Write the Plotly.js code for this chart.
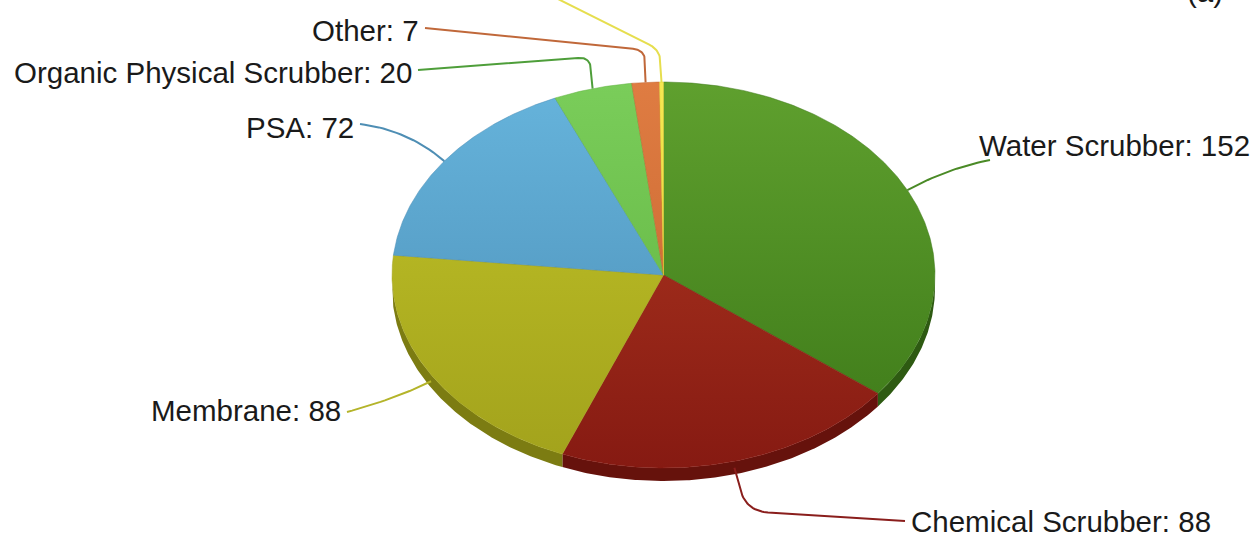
<!DOCTYPE html>
<html><head><meta charset="utf-8">
<script src="https://cdn.plot.ly/plotly-3.0.1.min.js"></script>
<style>html,body{margin:0;padding:0;background:#fff;overflow:hidden}</style>
</head><body><div id="chart" style="width:1260px;height:538px"></div>
<script>
// ---- data ----
const categories = ['Water Scrubber', 'Chemical Scrubber', 'Membrane', 'PSA', 'Organic Physical Scrubber', 'Other', 'Cryogenic'];
const values = [152, 88, 88, 72, 20, 7, 1];
const showLabel = [true, true, true, true, true, true, false];
const panelLabel = '(a)';

// ---- style ----
const topColors    = ['#5fa02e', '#b23a22', '#c2c428', '#66b4dc', '#7acd5a', '#df7c42', '#f6e852'];
const bottomColors = ['#3c7818', '#861a12', '#a2a21c', '#4a8cb4', '#5eb03e', '#c2622c', '#e2cc30'];
const rimColors    = ['#2e5a12', '#66120c', '#7c7c12', '#386c8c', '#488c2e', '#984a1e', '#b6a626'];
const lineColors   = ['#4a8a26', '#8a1e1c', '#b4b42a', '#4e8eb4', '#4e9e3a', '#c0683a', '#e6de4e'];
const geo = {cx: 663.5, cy: 275, rx: 271.5, ry: 193, depth: 13};
const fontSize = 29.5;
const labelStyle = [
  {tx: 977, ty: 145, xa: 'left',  corner: [948, 168], end: [990, 160], r: 1000},
  {tx: 909, ty: 521, xa: 'left',  corner: [746, 511], end: [905, 521], r: 22},
  {tx: 343, ty: 410, xa: 'right', corner: [398, 398], end: [347, 412], r: 1000},
  {tx: 356, ty: 127, xa: 'right', corner: [408, 130], end: [360, 124], r: 1000},
  {tx: 414, ty: 72,  xa: 'right', corner: [590, 57],  end: [418, 70],  r: 12},
  {tx: 421, ty: 30,  xa: 'right', corner: [645, 50],  end: [425, 28],  r: 12},
  {tx: 0,   ty: 0,   xa: 'right', corner: [660, 50],  end: [548, -6],  r: 12}
];

const total = values.reduce((a, b) => a + b, 0);
const rad = d => d * Math.PI / 180;
function pt(deg, dy) {
  return [geo.cx + geo.rx * Math.sin(rad(deg)), geo.cy - geo.ry * Math.cos(rad(deg)) + (dy || 0)];
}
function arc(a1, a2, dy) {
  const pts = [];
  const n = Math.max(2, Math.ceil((a2 - a1) / 0.5));
  for (let i = 0; i <= n; i++) pts.push(pt(a1 + (a2 - a1) * i / n, dy));
  return pts;
}

const rimTraces = [], faceTraces = [], lineTraces = [], annotations = [];
let acc = 0;
values.forEach((v, i) => {
  const a1 = acc / total * 360, a2 = (acc + v) / total * 360;
  acc += v;
  // rim (front half only)
  const r1 = Math.max(a1, 90), r2 = Math.min(a2, 270);
  if (r2 > r1) {
    const top = arc(r1, r2, 0), bot = arc(r1, r2, geo.depth).reverse();
    const poly = top.concat(bot);
    rimTraces.push({
      type: 'scatter', mode: 'lines', fill: 'toself',
      x: poly.map(p => p[0]), y: poly.map(p => p[1]),
      line: {width: 0, color: rimColors[i]}, fillcolor: rimColors[i],
      hoverinfo: 'skip', showlegend: false
    });
  }
  // top face
  const face = [[geo.cx, geo.cy]].concat(arc(a1, a2, 0));
  face.push([geo.cx, geo.cy]);
  faceTraces.push({
    type: 'scatter', mode: 'lines', fill: 'toself',
    x: face.map(p => p[0]), y: face.map(p => p[1]),
    line: {width: 0.5, color: bottomColors[i]},
    fillcolor: topColors[i],
    fillgradient: {type: 'vertical', start: 82, stop: 468,
      colorscale: [[0, topColors[i]], [1, bottomColors[i]]]},
    name: categories[i], text: categories[i] + ': ' + v,
    hoverinfo: 'text', hoveron: 'fills', showlegend: false
  });
  // leader line
  const mid = (a1 + a2) / 2;
  const front = Math.cos(rad(mid)) < 0;
  const s = labelStyle[i];
  const A = pt(mid, front ? geo.depth * 0.5 : 0), B = s.corner, C = s.end;
  const dAB = Math.hypot(A[0] - B[0], A[1] - B[1]), dBC = Math.hypot(C[0] - B[0], C[1] - B[1]);
  const f1 = Math.min(s.r / dAB, 1), f2 = Math.min(s.r / dBC, 1);
  const P1 = [B[0] + (A[0] - B[0]) * f1, B[1] + (A[1] - B[1]) * f1];
  const P2 = [B[0] + (C[0] - B[0]) * f2, B[1] + (C[1] - B[1]) * f2];
  const lp = [A, P1];
  for (let k = 1; k < 20; k++) {
    const t = k / 20;
    lp.push([(1 - t) * (1 - t) * P1[0] + 2 * t * (1 - t) * B[0] + t * t * P2[0],
             (1 - t) * (1 - t) * P1[1] + 2 * t * (1 - t) * B[1] + t * t * P2[1]]);
  }
  lp.push(P2, C);
  lineTraces.push({
    type: 'scatter', mode: 'lines',
    x: lp.map(p => p[0]), y: lp.map(p => p[1]),
    line: {width: 2, color: lineColors[i]}, hoverinfo: 'skip', showlegend: false
  });
  if (showLabel[i]) {
    annotations.push({
      xref: 'x', yref: 'y', x: s.tx, y: s.ty, xanchor: s.xa, yanchor: 'middle',
      text: categories[i] + ': ' + v, showarrow: false,
      font: {family: 'Liberation Sans, Arial, sans-serif', size: fontSize, color: '#1a1a1a'}
    });
  }
});
annotations.push({
  xref: 'paper', yref: 'paper', x: 0.956, y: 1.016, xanchor: 'center', yanchor: 'middle',
  text: panelLabel, showarrow: false,
  font: {family: 'Liberation Sans, Arial, sans-serif', size: fontSize, color: '#1a1a1a'}
});

const layout = {
  width: 1260, height: 538,
  margin: {l: 0, r: 0, t: 0, b: 0},
  paper_bgcolor: '#ffffff', plot_bgcolor: '#ffffff',
  xaxis: {range: [0, 1260], visible: false, fixedrange: true},
  yaxis: {range: [538, 0], visible: false, fixedrange: true},
  annotations: annotations, showlegend: false
};
Plotly.newPlot('chart', rimTraces.concat(faceTraces, lineTraces), layout, {displayModeBar: false, staticPlot: true});
</script></body></html>
